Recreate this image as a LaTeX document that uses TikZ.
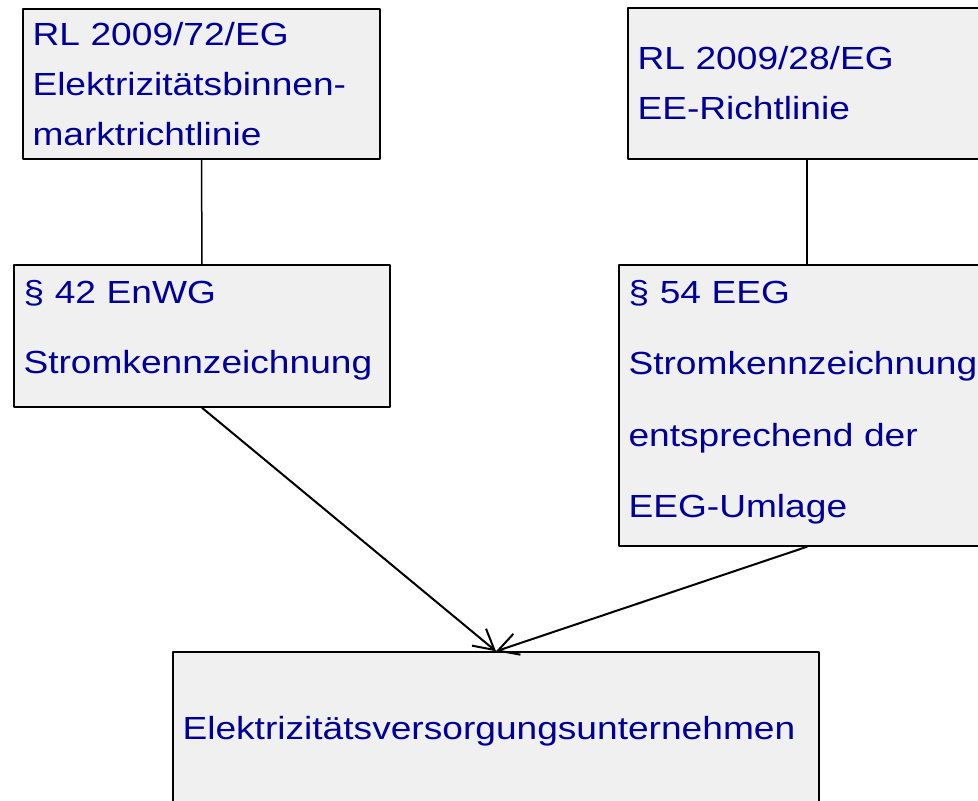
\documentclass[tikz,border=0pt]{standalone}
\usepackage{fontspec}
\setmainfont{Liberation Sans}[FakeStretch=1.16]
\usetikzlibrary{arrows.meta}
\definecolor{boxfill}{RGB}{240,240,240}
\definecolor{boxtext}{RGB}{0,0,153}
\begin{document}
\begin{tikzpicture}[x=1pt,y=1pt,>={Straight Barb[length=20pt,width=22pt]},line join=round,line cap=round,
	lawbox/.style={draw=black,line width=1.5pt,fill=boxfill,text=boxtext,align=left,
		inner xsep=9.5pt,inner ysep=0pt,font=\fontsize{32}{50}\selectfont},
	wide/.style={font=\fontsize{32}{#1}\selectfont},
	link/.style={line width=1.5pt},
	arr/.style={->,line width=2pt}]
		\def\lowstrut#1{\rule[-#1]{0pt}{#1}}
		\useasboundingbox (0,0) rectangle (978,-801);
		\node[lawbox, minimum width=357pt, text width=338pt, minimum height=150pt] (rl72) at (201.5,-84)
			{RL 2009/72/EG\\Elektrizitätsbinnen-\\marktrichtlinie};
		\node[lawbox, minimum width=358pt, text width=339pt, minimum height=151pt] (rl28) at (807,-83.5)
			{RL 2009/28/EG\\EE-Richtlinie};
		\node[lawbox, wide=70, minimum width=376pt, text width=357pt, minimum height=142pt] (enwg) at (202,-336)
			{§ 42 EnWG\\Stromkennzeichnung\lowstrut{19pt}};
		\node[lawbox, wide=71.5, minimum width=376pt, text width=357pt, minimum height=281pt] (eeg) at (807,-405.5)
			{§ 54 EEG\\Stromkennzeichnung\\entsprechend der\\EEG-Umlage\lowstrut{13pt}};
		\node[lawbox, minimum width=646pt, text width=627pt, minimum height=159pt] (evu) at (496,-731.5)
			{Elektrizitätsversorgungsunternehmen};
		\draw[link] (rl72.south) -- (enwg.north);
		\draw[link] (rl28.south) -- (eeg.north);
		\draw[arr] (enwg.south) -- (evu.north);
		\draw[arr] (eeg.south) -- (evu.north);
	\end{tikzpicture}
\end{document}
